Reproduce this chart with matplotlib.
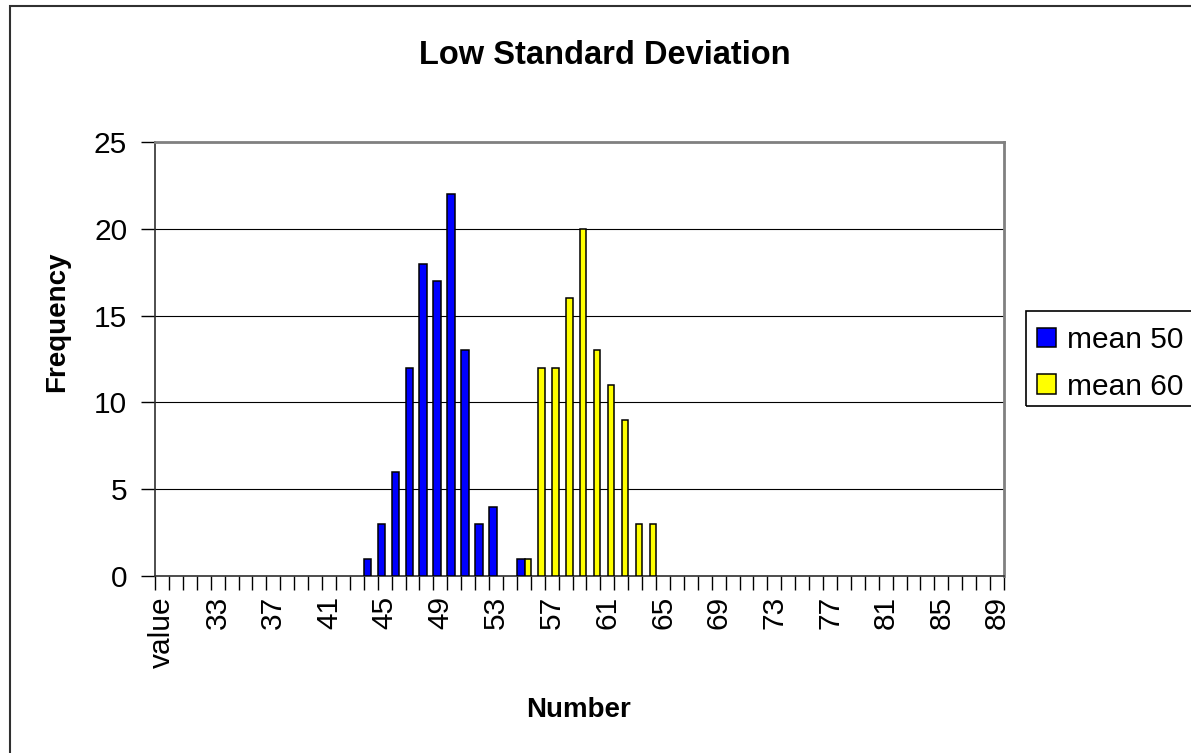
import matplotlib.pyplot as plt
from matplotlib.patches import Rectangle, Patch
import numpy as np

plt.rcParams['font.family'] = ['Liberation Sans', 'DejaVu Sans']

# categories: first one is the header cell "value", then the numbers 30..89
categories = ["value"] + [str(n) for n in range(30, 90)]

mean50 = [0, 0, 0, 0, 0, 0, 0, 0, 0, 0,
          0, 0, 0, 0, 0, 1, 3, 6, 12, 18,
          17, 22, 13, 3, 4, 0, 1, 0, 0, 0,
          0, 0, 0, 0, 0, 0, 0, 0, 0, 0,
          0, 0, 0, 0, 0, 0, 0, 0, 0, 0,
          0, 0, 0, 0, 0, 0, 0, 0, 0, 0,
          0]
mean60 = [0, 0, 0, 0, 0, 0, 0, 0, 0, 0,
          0, 0, 0, 0, 0, 0, 0, 0, 0, 0,
          0, 0, 0, 0, 0, 0, 1, 12, 12, 16,
          20, 13, 11, 9, 3, 3, 0, 0, 0, 0,
          0, 0, 0, 0, 0, 0, 0, 0, 0, 0,
          0, 0, 0, 0, 0, 0, 0, 0, 0, 0,
          0]
series_names = ["mean 50", "mean 60"]
series_colors = ["#0000FF", "#FFFF00"]

W, H = 1191, 753
fig = plt.figure(figsize=(W / 100, H / 100), dpi=100)
fig.patch.set_facecolor("white")

# plot area in pixels
left, right, top, bottom = 155, 1004, 142, 576
ax = fig.add_axes([left / W, 1 - bottom / H, (right - left) / W, (bottom - top) / H])

x = np.arange(len(categories))
b = np.array(mean50)
y = np.array(mean60)
mb = b > 0
my = y > 0
ax.bar(x[mb], b[mb], width=0.55, align="edge", color=series_colors[0],
       edgecolor="black", linewidth=1.1, zorder=3)
ax.bar(x[my] + 0.55, y[my], width=0.45, align="edge", color=series_colors[1],
       edgecolor="black", linewidth=1.1, zorder=3)

ax.set_xlim(0, len(categories))
ax.set_ylim(0, 25)
ax.set_yticks([0, 5, 10, 15, 20, 25])
ax.yaxis.grid(True, color="black", linewidth=0.8, zorder=0)
ax.set_axisbelow(True)

# tick marks at every category boundary, labels every 4th category
ax.set_xticks(np.arange(0, len(categories) + 1), minor=False)
ax.set_xticklabels([])
ax.set_xticks(x[::4] + 0.5, minor=True)
ax.set_xticklabels(categories[::4], minor=True, rotation=90, fontsize=21.5)
ax.tick_params(axis="x", which="major", direction="out", length=10, width=1, color="black")
ax.tick_params(axis="x", which="minor", length=0, pad=14.5)
ax.tick_params(axis="y", direction="out", length=10, width=1, labelsize=21.5, pad=10)

for side in ["top", "right"]:
    ax.spines[side].set_color("#808080")
    ax.spines[side].set_linewidth(2)
ax.spines["left"].set_color("#303030")
ax.spines["bottom"].set_color("#303030")
ax.spines["left"].set_linewidth(1.2)
ax.spines["bottom"].set_linewidth(1.2)

fig.text(605 / W, 1 - 55 / H, "Low Standard Deviation", ha="center", va="center",
         fontsize=23.5, fontweight="bold")
fig.text(57 / W, 1 - 322 / H, "Frequency", ha="center", va="center", rotation=90,
         fontsize=20, fontweight="bold")
fig.text(578 / W, 1 - 710 / H, "Number", ha="center", va="center",
         fontsize=20, fontweight="bold")

# legend (its box runs off the right edge of the picture)
handles = [Patch(facecolor=c, edgecolor="black", linewidth=1.1) for c in series_colors]
leg = fig.legend(handles, series_names, loc="upper left",
                 bbox_to_anchor=(1037 / W, 1 - 326 / H), fontsize=21.5,
                 frameon=False, handlelength=0.64, handleheight=0.64,
                 handletextpad=0.35, labelspacing=0.62, borderpad=0,
                 borderaxespad=0)
fig.patches.append(Rectangle((1026 / W, 1 - 406 / H), 300 / W, 95 / H,
                             transform=fig.transFigure, fill=False,
                             edgecolor="black", linewidth=1.2))

# chart area border (cropped on the right and bottom)
fig.patches.append(Rectangle((10 / W, -0.1), 1.2, 1.1 - 6 / H, transform=fig.transFigure,
                             fill=False, edgecolor="#303030", linewidth=1.5))

fig.savefig("out.png", dpi=100)
